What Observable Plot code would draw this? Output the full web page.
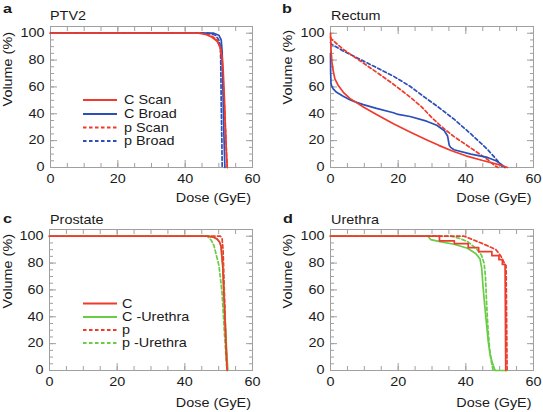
<!DOCTYPE html>
<html>
<head>
<meta charset="utf-8">
<script src="https://cdn.jsdelivr.net/npm/d3@7"></script>
<script src="https://cdn.jsdelivr.net/npm/@observablehq/plot@0.6"></script>
<style>
  body { margin: 0; background: #fff; }
  #chart { position: relative; width: 543px; height: 412px; background: #fff; overflow: hidden; }
  .panel { position: absolute; }
</style>
</head>
<body>
<div id="chart"></div>
<script>
// ---------- data (dose GyE, volume %) ----------
// Panel a: PTV2
const ptv2_CScan  = [[0,100],[44,100],[46,99.2],[48,97],[49.5,94],[50.5,89],[51,82],[51.3,72],[51.6,55],[52,27],[52.3,8],[52.5,0]];
const ptv2_CBroad = [[0,100],[48.5,100],[50,98.5],[50.7,95],[51,86],[51.2,60],[51.5,25],[51.8,0]];
const ptv2_pScan  = [[0,100],[45.5,100],[47.5,98.5],[49.5,95],[50.3,90],[51,78],[51.6,50],[52.2,15],[52.5,0]];
const ptv2_pBroad = [[0,100],[47,100],[49,98.5],[50,95],[50.5,90],[50.6,72],[50.7,50],[50.9,20],[51,0]];
// Panel b: Rectum
const rectum_CScan  = [[0,100],[0.15,88],[0.4,79],[0.8,72],[1.3,66],[2.3,61],[3.8,56],[5.7,51.5],[7.7,48.3],[9.7,45],[13.6,39.5],[18.6,32.5],[23.5,26.5],[28.5,20.5],[32,16.5],[36,12.3],[40,8.7],[45,5.2],[50,2],[52.3,0]];
const rectum_CBroad = [[0,85],[0.05,70],[0.15,63],[0.3,61],[0.8,58.5],[1.8,56],[3.75,53],[5.7,50.5],[7.7,48.5],[9.7,46.8],[13.6,44],[18.6,40.8],[20,39.5],[23.5,38],[28.4,34.5],[31.4,31.5],[33.6,27.5],[34.6,23.5],[35.1,16.5],[35.5,15],[36.5,13.2],[41.5,10],[46.4,7.5],[48.9,5],[50.4,2.5],[51.6,0]];
const rectum_pScan  = [[0,97],[0.3,95.5],[3.75,88],[8.7,79.5],[13.6,71],[18.6,62],[23.5,52.5],[27,45],[30,37],[33,30],[36.5,23],[41.5,14.5],[46.4,6],[48.5,1.5],[49.5,0]];
const rectum_pBroad = [[0,93],[0.3,91.8],[3.75,86.8],[8.7,80.6],[13.6,74.4],[18.6,68],[23.5,60.5],[28,52],[31.6,45.5],[36.5,36],[41.5,25],[46.4,13.5],[49.4,5],[50.9,0]];
// Panel c: Prostate
const prostate_C         = [[0,100],[46.6,100],[48.5,99.3],[49.5,98],[50.3,95.5],[50.7,92.5],[51.2,78],[51.7,48],[52.2,18],[52.5,0]];
const prostate_CUrethra  = [[0,100],[46.6,100],[48.5,99.3],[49.5,98],[50.3,95.5],[50.7,92.5],[51.2,78],[51.7,48],[52.3,18],[52.7,0]];
const prostate_p         = [[0,100],[50.5,100],[51,98.5],[51.3,90],[51.8,50],[52.2,15],[52.5,0]];
const prostate_pUrethra  = [[0,100],[46.6,100],[47.8,97],[48.6,93],[50.1,78],[51,58],[51.7,28],[52.3,5],[52.5,0]];
// Panel d: Urethra
const urethra_C         = [[0,100],[32.2,100],[32.2,96.5],[36.6,96.5],[36.6,94.5],[40.7,94.5],[40.7,91.5],[43.8,91.5],[43.8,88.5],[47.7,88.5],[47.7,85.5],[49.8,85.5],[49.8,82.5],[50.8,82.5],[50.8,79],[51.6,79],[51.8,0]];
const urethra_CUrethra  = [[0,100],[28.8,100],[29.6,97.5],[32.4,96],[36.5,94],[40.5,91],[43,87],[44.2,83],[44.7,76],[45.1,62],[45.6,48],[46.1,35],[46.6,22],[47.1,13],[47.8,6],[48.5,1],[48.7,0],[52,0]];
const urethra_p         = [[0,100],[39.5,100],[40.5,99],[42,97.5],[45.4,94],[48.9,90],[50.4,85],[51.4,80],[51.9,78],[52.2,0]];
const urethra_pUrethra  = [[0,100],[35.5,100],[38,98.5],[40.5,96],[43,91],[44.6,86],[45.4,80],[45.8,70],[46.1,52],[46.5,33],[46.9,20],[47.3,10],[47.8,3],[48.1,0]];

// tick values and labels
const xMinorTicks = [0,5,10,15,20,25,30,35,40,45,50,55,60];
const xMajorTicks = [0,20,40,60];
const yMinorTicks = [0,5,10,15,20,25,30,35,40,45,50,55,60,65,70,75,80,85,90,95,100];
const yMajorTicks = [0,20,40,60,80,100];
const panelLetters = ["a","b","c","d"];
const panelTitles = ["PTV2","Rectum","Prostate","Urethra"];
const legendA = ["C Scan","C Broad","p Scan","p Broad"];
const legendC = ["C","C -Urethra","p","p -Urethra"];
const xLabel = "Dose (GyE)";
const yLabel = "Volume (%)";

// ---------- styling ----------
const RED = "#ee3b2b", BLUE = "#2c4fb9", GREEN = "#68cc45";
const GRAY = "#a0a0a0", INK = "#1a1a1a";
const FONT = '"Liberation Sans", Arial, Helvetica, sans-serif';
const SX = 1.2;
const FS = 12;
const DASH = "3.5,2.5";

function stretchText(t, s) {
  const tr = t.getAttribute("transform");
  if (tr) t.setAttribute("transform", tr + ` scale(${s},1)`);
  else {
    const x = +t.getAttribute("x") || 0, y = +t.getAttribute("y") || 0;
    t.removeAttribute("x"); t.removeAttribute("y");
    t.setAttribute("transform", `translate(${x},${y}) scale(${s},1)`);
  }
}

function addText(svg, x, y, str, {size = FS, weight = "normal", anchor = "start", rotate = 0} = {}) {
  d3.select(svg).append("text")
    .attr("transform", `translate(${x},${y})${rotate ? ` rotate(${rotate})` : ""} scale(${SX},1)`)
    .attr("font-size", size).attr("font-weight", weight)
    .attr("font-family", FONT)
    .attr("text-anchor", anchor).attr("fill", INK)
    .text(str);
}

function tickMarks(values, len, axis) {
  if (axis === "x") return [
    Plot.axisX(values, {anchor: "bottom", tickSize: len, dy: -len, tickFormat: () => "", label: null, stroke: GRAY}),
    Plot.axisX(values, {anchor: "top", tickSize: len, dy: len, tickFormat: () => "", label: null, stroke: GRAY})
  ];
  return [
    Plot.axisY(values, {anchor: "left", tickSize: len, dx: len, tickFormat: () => "", label: null, stroke: GRAY}),
    Plot.axisY(values, {anchor: "right", tickSize: len, dx: -len, tickFormat: () => "", label: null, stroke: GRAY})
  ];
}

function makePanel(cfg) {
  const marks = [
    ...tickMarks(xMinorTicks, 4, "x"),
    ...tickMarks(xMajorTicks, 7, "x"),
    ...tickMarks(yMinorTicks, 4, "y"),
    ...tickMarks(yMajorTicks, 7, "y"),
    Plot.axisX(xMajorTicks, {anchor: "bottom", tickSize: 0, tickPadding: 7, label: null, fill: INK}),
    Plot.axisY(yMajorTicks, {anchor: "left", tickSize: 0, tickPadding: 6, label: null, fill: INK}),
    Plot.frame({stroke: GRAY})
  ];
  for (const s of cfg.series) {
    const o = {x: d => d[0], y: d => d[1], stroke: s.color, strokeWidth: 1.7};
    if (s.dash) o.strokeDasharray = DASH;
    marks.push(Plot.line(s.data, o));
  }
  const svg = Plot.plot({
    width: 271, height: 206,
    marginLeft: cfg.mL, marginRight: cfg.mR, marginTop: cfg.mT, marginBottom: cfg.mB,
    x: {domain: [0, 60], label: null},
    y: {domain: [0, 105], label: null},
    style: {fontFamily: FONT, fontSize: FS + "px", color: INK, background: "#fff", overflow: "visible"},
    marks
  });
  svg.querySelectorAll('g[aria-label="x-axis tick label"] text, g[aria-label="y-axis tick label"] text')
    .forEach(t => stretchText(t, SX));
  // panel letter + title
  addText(svg, cfg.letter[0], cfg.letter[1], cfg.letterText, {size: 13.5, weight: "bold"});
  addText(svg, cfg.title[0], cfg.title[1], cfg.titleText);
  // axis labels
  addText(svg, cfg.xl[0], cfg.xl[1], xLabel, {anchor: "end"});
  addText(svg, cfg.yl[0], cfg.yl[1], yLabel, {anchor: "end", rotate: -90});
  // legend
  if (cfg.legend) {
    const g = d3.select(svg).append("g");
    cfg.legend.labels.forEach((lab, i) => {
      const s = cfg.legend.series[i];
      const y = cfg.legend.rows[i];
      const ln = g.append("line").attr("x1", cfg.legend.x1).attr("x2", cfg.legend.x2)
        .attr("y1", y).attr("y2", y).attr("stroke", s.color).attr("stroke-width", 2);
      if (s.dash) ln.attr("stroke-dasharray", DASH);
      addText(svg, cfg.legend.tx, y + 4.3, lab);
    });
  }
  const div = document.createElement("div");
  div.className = "panel";
  div.style.left = cfg.left + "px";
  div.style.top = cfg.top + "px";
  div.appendChild(svg);
  document.getElementById("chart").appendChild(div);
}

const sA = [
  {data: ptv2_pBroad, color: BLUE, dash: true},
  {data: ptv2_pScan, color: RED, dash: true},
  {data: ptv2_CBroad, color: BLUE},
  {data: ptv2_CScan, color: RED}
];
makePanel({
  left: 0, top: 0, mL: 50, mR: 19, mT: 26, mB: 39,
  letter: [3, 12.5], letterText: panelLetters[0],
  title: [50, 20], titleText: panelTitles[0],
  xl: [251, 201.5], yl: [12, 32],
  series: sA,
  legend: {labels: legendA, series: [sA[3], sA[2], sA[1], sA[0]], rows: [100, 114, 127.5, 141], x1: 83, x2: 117, tx: 124}
});

makePanel({
  left: 272, top: 0, mL: 58, mR: 10, mT: 26, mB: 39,
  letter: [10, 12.5], letterText: panelLetters[1],
  title: [59, 19.5], titleText: panelTitles[1],
  xl: [259.5, 201.5], yl: [19.5, 30],
  series: [
    {data: rectum_pBroad, color: BLUE, dash: true},
    {data: rectum_pScan, color: RED, dash: true},
    {data: rectum_CBroad, color: BLUE},
    {data: rectum_CScan, color: RED}
  ]
});

const sC = [
  {data: prostate_pUrethra, color: GREEN, dash: true},
  {data: prostate_p, color: RED, dash: true},
  {data: prostate_CUrethra, color: GREEN},
  {data: prostate_C, color: RED}
];
makePanel({
  left: 0, top: 206, mL: 49, mR: 19, mT: 23, mB: 42,
  letter: [3, 16.5], letterText: panelLetters[2],
  title: [50, 17.5], titleText: panelTitles[2],
  xl: [251, 201], yl: [12, 28],
  series: sC,
  legend: {labels: legendC, series: [sC[3], sC[2], sC[1], sC[0]], rows: [97.5, 111, 124, 137], x1: 83, x2: 117, tx: 122}
});

makePanel({
  left: 272, top: 206, mL: 58, mR: 10, mT: 23, mB: 42,
  letter: [11, 16.5], letterText: panelLetters[3],
  title: [59, 17.5], titleText: panelTitles[3],
  xl: [259.5, 201], yl: [20, 28],
  series: [
    {data: urethra_pUrethra, color: GREEN, dash: true},
    {data: urethra_p, color: RED, dash: true},
    {data: urethra_CUrethra, color: GREEN},
    {data: urethra_C, color: RED}
  ]
});
</script>
</body>
</html>
